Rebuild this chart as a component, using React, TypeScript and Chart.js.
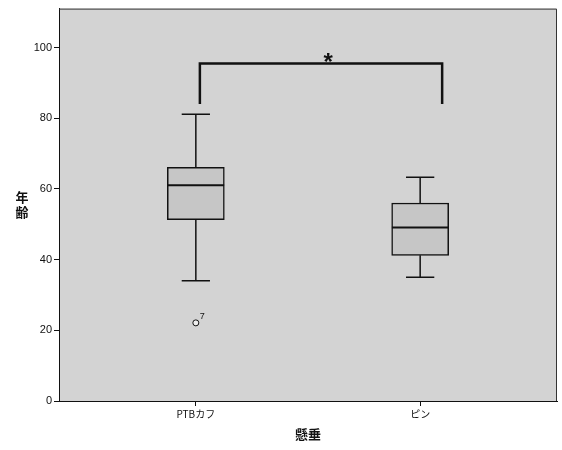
import React, { useEffect, useRef } from 'react';
import { Chart, registerables } from 'chart.js';

Chart.register(...registerables);

// ---- data ----
const categories = ['PTBカフ', 'ピン'];
const whiskerLow = [34, 35];
const q1 = [51.3, 41.2];
const median = [61, 49.1];
const q3 = [66.1, 56];
const whiskerHigh = [81.1, 63.3];
const outlierCategory = [0];
const outlierValue = [22.1];
const outlierLabel = ['7'];
const yTicks = [0, 20, 40, 60, 80, 100];
const bracketX = [0.018, 1.098];
const bracketTop = 95.5;
const bracketBottom = 84;
const sigMark = '*';
const sigMarkX = 0.59;
const yTitle = '年齢';
const xTitle = '懸垂';

// ---- style ----
const BOX_HALF = 0.126;
const CAP_HALF = 0.063;
const BG = '#d3d3d3';
const BOX_FILL = '#c6c6c6';
const INK = '#111111';
const LATIN = '"Liberation Sans", Arial, "Noto Sans CJK JP", sans-serif';
const CJK = '"Noto Sans CJK JP", "Liberation Sans", sans-serif';

const gap = (x: number) => ({ x, y: null as any });

const decor = {
  id: 'decor',
  beforeDraw(chart: any) {
    const { ctx, chartArea: a } = chart;
    ctx.save();
    ctx.fillStyle = BG;
    ctx.fillRect(a.left, a.top, a.right - a.left, a.bottom - a.top);
    ctx.restore();
  },
  afterDraw(chart: any) {
    const { ctx, chartArea: a, scales } = chart;
    const xs = scales.x;
    const ys = scales.y;
    ctx.save();
    // frame
    ctx.strokeStyle = '#333';
    ctx.lineWidth = 1;
    ctx.beginPath();
    ctx.moveTo(a.left, a.top + 0.5);
    ctx.lineTo(a.right - 0.5, a.top + 0.5);
    ctx.lineTo(a.right - 0.5, a.bottom);
    ctx.stroke();
    // y title, stacked upright
    ctx.fillStyle = INK;
    ctx.font = 'bold 13px ' + CJK;
    ctx.textAlign = 'center';
    ctx.textBaseline = 'middle';
    const chars = Array.from(yTitle);
    const midY = ys.getPixelForValue(55.6);
    chars.forEach((c, i) => {
      ctx.fillText(c, 22, midY + (i - (chars.length - 1) / 2) * 15);
    });
    // outlier labels
    ctx.font = '9px ' + LATIN;
    ctx.textAlign = 'left';
    outlierValue.forEach((v, i) => {
      const px = xs.getPixelForValue(outlierCategory[i]);
      const py = ys.getPixelForValue(v);
      ctx.fillText(outlierLabel[i], px + 4, py - 6);
    });
    // significance mark
    ctx.font = 'bold 24px ' + LATIN;
    ctx.textAlign = 'center';
    ctx.textBaseline = 'alphabetic';
    const sx = xs.getPixelForValue(sigMarkX);
    const sy = ys.getPixelForValue(bracketTop);
    ctx.fillText(sigMark, sx, sy + 7);
    ctx.restore();
  },
};

export default function App() {
  const ref = useRef<HTMLCanvasElement>(null);
  useEffect(() => {
    if (!ref.current) return;
    const whiskers: any[] = [];
    const caps: any[] = [];
    const medians: any[] = [];
    categories.forEach((_, i) => {
      whiskers.push({ x: i, y: q3[i] }, { x: i, y: whiskerHigh[i] }, gap(i));
      whiskers.push({ x: i, y: q1[i] }, { x: i, y: whiskerLow[i] }, gap(i));
      caps.push({ x: i - CAP_HALF, y: whiskerHigh[i] }, { x: i + CAP_HALF, y: whiskerHigh[i] }, gap(i));
      caps.push({ x: i - CAP_HALF, y: whiskerLow[i] }, { x: i + CAP_HALF, y: whiskerLow[i] }, gap(i));
      medians.push({ x: i - BOX_HALF, y: median[i] }, { x: i + BOX_HALF, y: median[i] }, gap(i));
    });
    const lineBase = {
      type: 'line' as const,
      borderColor: INK,
      pointRadius: 0,
      spanGaps: false,
      fill: false,
      tension: 0,
    };
    const chart = new Chart(ref.current, {
      type: 'bar',
      data: {
        datasets: [
          { ...lineBase, data: medians, borderWidth: 2, order: 0 } as any,
          { ...lineBase, data: whiskers, borderWidth: 1.5, order: 1 } as any,
          { ...lineBase, data: caps, borderWidth: 1.5, order: 1 } as any,
          {
            ...lineBase,
            data: [
              { x: bracketX[0], y: bracketBottom },
              { x: bracketX[0], y: bracketTop },
              { x: bracketX[1], y: bracketTop },
              { x: bracketX[1], y: bracketBottom },
            ],
            borderWidth: 2.5,
            borderCapStyle: 'butt',
            borderJoinStyle: 'miter',
            order: 1,
          } as any,
          {
            type: 'scatter',
            data: outlierValue.map((v, i) => ({ x: outlierCategory[i], y: v })),
            pointRadius: 3,
            pointBackgroundColor: '#eeeeee',
            pointBorderColor: INK,
            pointBorderWidth: 1,
            showLine: false,
            order: 0,
          } as any,
          {
            type: 'bar',
            data: categories.map((_, i) => ({ x: i, y: [q1[i], q3[i]] })),
            backgroundColor: BOX_FILL,
            borderColor: INK,
            borderWidth: 1.5,
            borderSkipped: false,
            barThickness: 57,
            order: 10,
          } as any,
        ],
      },
      options: {
        animation: false,
        responsive: false,
        events: [],
        layout: { padding: { top: 7, right: 5, left: 0, bottom: 0 } },
        plugins: { legend: { display: false }, tooltip: { enabled: false }, title: { display: false } },
        scales: {
          x: {
            type: 'linear',
            offset: false,
            min: -0.61,
            max: 1.61,
            afterBuildTicks: (s: any) => {
              s.ticks = categories.map((_, i) => ({ value: i }));
            },
            afterFit: (s: any) => {
              s.height = 49;
            },
            ticks: {
              autoSkip: false,
              maxRotation: 0,
              padding: 2,
              color: INK,
              font: { size: 10, family: CJK },
              callback: (v: any) => categories[v] ?? '',
            },
            grid: { display: true, offset: false, drawOnChartArea: false, drawTicks: true, tickLength: 5, color: INK },
            border: { display: true, color: INK, width: 1 },
            title: {
              display: true,
              text: xTitle,
              color: INK,
              font: { size: 13, weight: 'bold', family: CJK },
              padding: { top: 0, bottom: 8 },
            },
          },
          y: {
            type: 'linear',
            min: 0,
            max: 111,
            afterBuildTicks: (s: any) => {
              s.ticks = yTicks.map((v) => ({ value: v }));
            },
            afterFit: (s: any) => {
              s.width = 59;
            },
            ticks: {
              padding: 2,
              color: INK,
              font: { size: 11, family: LATIN },
            },
            grid: { display: true, drawOnChartArea: false, drawTicks: true, tickLength: 5, color: INK },
            border: { display: true, color: INK, width: 1 },
          },
        },
      },
      plugins: [decor],
    } as any);
    return () => chart.destroy();
  }, []);
  return (
    <div style={{ position: 'fixed', left: 0, top: 0, width: 562, height: 450, background: '#fff' }}>
      <canvas ref={ref} width={562} height={450} style={{ display: 'block' }} />
    </div>
  );
}
